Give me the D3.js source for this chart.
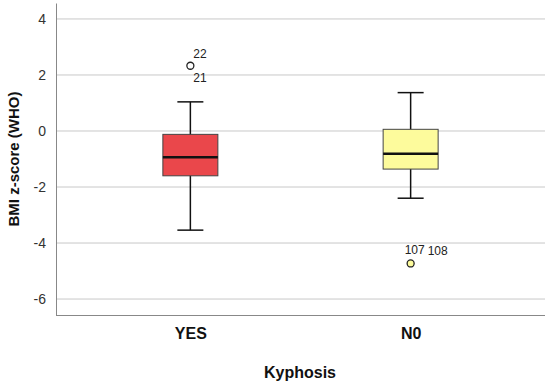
<!DOCTYPE html>
<html>
<head>
<meta charset="utf-8">
<script src="https://cdn.jsdelivr.net/npm/d3@7"></script>
<style>
  body { margin: 0; background: #fff; }
  text { font-family: Arial, "Liberation Sans", sans-serif; }
</style>
</head>
<body>
<div id="chart"></div>
<script>
// data
const categories = ['YES', 'N0'];
const colors = ['#ea474b', '#fdfb9c'];
const upperWhisker = [1.04, 1.37];
const q3 = [-0.12, 0.06];
const medians = [-0.94, -0.81];
const q1 = [-1.6, -1.36];
const lowerWhisker = [-3.54, -2.4];
const outlierValues = [2.33, -4.73];
const outlierFilled = [false, true];
const outlierLabels = [['22', '21'], ['107', '108']];
const yTicks = [4, 2, 0, -2, -4, -6];

const boxes = categories.map((c, i) => ({
  cat: c, color: colors[i], hi: upperWhisker[i], q3: q3[i], med: medians[i],
  q1: q1[i], lo: lowerWhisker[i], out: outlierValues[i], filled: outlierFilled[i],
  labels: outlierLabels[i]
}));

const width = 550, height = 385;
const margin = { top: 3, right: 5, bottom: 70, left: 56 };

const svg = d3.select('#chart').append('svg')
  .attr('width', width).attr('height', height);

const x = d3.scalePoint()
  .domain(categories)
  .range([margin.left, width - margin.right])
  .padding(0.61);

const y = d3.scaleLinear()
  .domain([-6.57, 4.57])
  .range([height - margin.bottom, margin.top]);

// gridlines
svg.append('g')
  .selectAll('line')
  .data(yTicks)
  .enter()
  .append('line')
  .attr('x1', margin.left).attr('x2', width - margin.right)
  .attr('y1', d => y(d)).attr('y2', d => y(d))
  .attr('stroke', '#c8c8c8').attr('stroke-width', 1);

// y axis
svg.append('g')
  .attr('transform', `translate(${margin.left},0)`)
  .call(d3.axisLeft(y).tickValues(yTicks).tickFormat(d => String(d)).tickSize(0).tickPadding(10))
  .call(g => g.select('.domain').attr('stroke', '#888'))
  .call(g => g.selectAll('.tick text').attr('fill', '#333').style('font-size', '14px')
    .style('font-family', 'Arial, "Liberation Sans", sans-serif'));

// x axis
svg.append('g')
  .attr('transform', `translate(0,${height - margin.bottom})`)
  .call(d3.axisBottom(x).tickSize(0).tickPadding(13))
  .call(g => g.select('.domain').attr('stroke', '#888').attr('d', `M${margin.left},0.5H${width - margin.right}`))
  .call(g => g.selectAll('.tick text').attr('fill', '#111').style('font-size', '16px')
    .style('font-weight', 'bold').style('font-family', 'Arial, "Liberation Sans", sans-serif'));

// axis titles
svg.append('text')
  .attr('x', 300).attr('y', 378)
  .attr('text-anchor', 'middle')
  .style('font-size', '16px').style('font-weight', 'bold').attr('fill', '#111')
  .text('Kyphosis');

svg.append('text')
  .attr('transform', `translate(19,${(margin.top + height - margin.bottom) / 2}) rotate(-90)`)
  .attr('text-anchor', 'middle')
  .style('font-size', '15px').style('font-weight', 'bold').attr('fill', '#111')
  .text('BMI z-score (WHO)');

const boxW = 55, capW = 26;
const g = svg.append('g').selectAll('g').data(boxes).enter().append('g');

// whiskers
g.append('line')
  .attr('x1', d => x(d.cat)).attr('x2', d => x(d.cat))
  .attr('y1', d => y(d.hi)).attr('y2', d => y(d.lo))
  .attr('stroke', '#111').attr('stroke-width', 1.5);
g.append('line')
  .attr('x1', d => x(d.cat) - capW / 2).attr('x2', d => x(d.cat) + capW / 2)
  .attr('y1', d => y(d.hi)).attr('y2', d => y(d.hi))
  .attr('stroke', '#111').attr('stroke-width', 1.5);
g.append('line')
  .attr('x1', d => x(d.cat) - capW / 2).attr('x2', d => x(d.cat) + capW / 2)
  .attr('y1', d => y(d.lo)).attr('y2', d => y(d.lo))
  .attr('stroke', '#111').attr('stroke-width', 1.5);

// boxes
g.append('rect')
  .attr('x', d => x(d.cat) - boxW / 2)
  .attr('y', d => y(d.q3))
  .attr('width', boxW)
  .attr('height', d => y(d.q1) - y(d.q3))
  .attr('fill', d => d.color)
  .attr('stroke', '#444').attr('stroke-width', 1);

// medians
g.append('line')
  .attr('x1', d => x(d.cat) - boxW / 2).attr('x2', d => x(d.cat) + boxW / 2)
  .attr('y1', d => y(d.med)).attr('y2', d => y(d.med))
  .attr('stroke', '#111').attr('stroke-width', 2.5);

// outliers
g.append('circle')
  .attr('cx', d => x(d.cat)).attr('cy', d => y(d.out))
  .attr('r', 3.5)
  .attr('fill', d => d.filled ? d.color : '#fff')
  .attr('stroke', '#222').attr('stroke-width', 1.3);

// outlier case labels
const lab = svg.append('g').style('font-size', '12px').attr('fill', '#222');
const yes = boxes[0], no = boxes[1];
lab.append('text').attr('x', x(yes.cat) + 3).attr('y', y(yes.out) - 8).text(yes.labels[0]);
lab.append('text').attr('x', x(yes.cat) + 3).attr('y', y(yes.out) + 16).text(yes.labels[1]);
lab.append('text').attr('x', x(no.cat) - 6).attr('y', y(no.out) - 9).text(no.labels[0]);
lab.append('text').attr('x', x(no.cat) + 17).attr('y', y(no.out) - 8).text(no.labels[1]);
</script>
</body>
</html>
